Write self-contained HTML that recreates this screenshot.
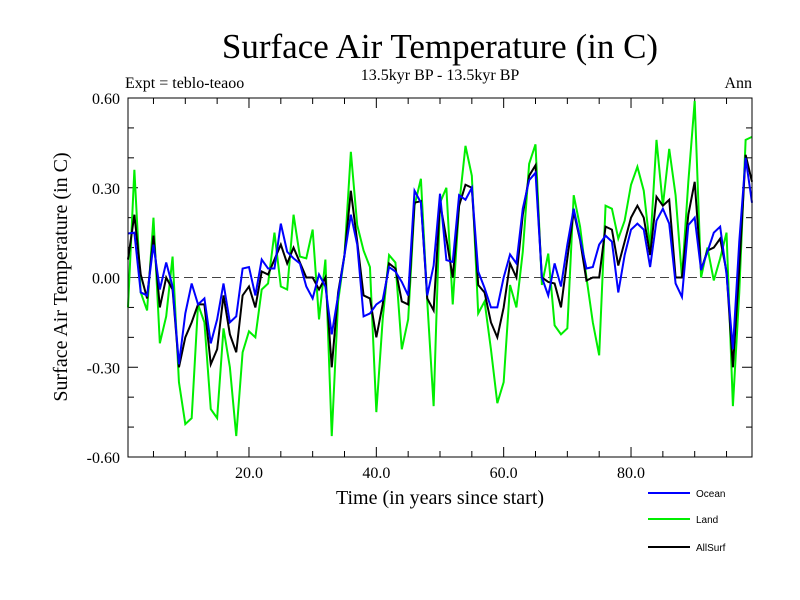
<!DOCTYPE html>
<html><head><meta charset="utf-8"><style>
html,body{margin:0;padding:0;background:#fff;}
svg{display:block;}
text{font-family:"Liberation Serif",serif;fill:#000;}
.leg{font-family:"Liberation Sans",sans-serif;font-size:10px;}
</style></head><body>
<svg id="chart" width="800" height="600">
<text x="440" y="58" text-anchor="middle" font-size="35">Surface Air Temperature (in C)</text>
<text x="440" y="80" text-anchor="middle" font-size="16">13.5kyr BP - 13.5kyr BP</text>
<text x="125" y="88" font-size="16">Expt = teblo-teaoo</text>
<text x="752" y="88" text-anchor="end" font-size="16">Ann</text>
<text transform="translate(67,277) rotate(-90)" text-anchor="middle" font-size="20">Surface Air Temperature (in C)</text>
<text x="440" y="504" text-anchor="middle" font-size="20">Time (in years since start)</text>
<g id="ticks"></g>
<g id="series"></g>
<rect x="128" y="98" width="624" height="359" fill="none" stroke="#000" stroke-width="1"/>
<g>
<line x1="648" y1="493" x2="690" y2="493" stroke="#0000ff" stroke-width="2"/>
<text x="696" y="497" class="leg">Ocean</text>
<line x1="648" y1="519" x2="690" y2="519" stroke="#00ee00" stroke-width="2"/>
<text x="696" y="523" class="leg">Land</text>
<line x1="648" y1="547" x2="690" y2="547" stroke="#000" stroke-width="2"/>
<text x="696" y="551" class="leg">AllSurf</text>
</g>
</svg>
<script>
const years = Array.from({length:99},(_,i)=>i+1);
const ocean = [0.147,0.15,-0.05,-0.06,0.11,-0.04,0.05,-0.03,-0.29,-0.12,-0.02,-0.09,-0.07,-0.22,-0.14,-0.02,-0.15,-0.13,0.03,0.035,-0.06,0.06,0.03,0.03,0.18,
0.086,0.064,0.047,-0.03,-0.07,0.01,-0.03,-0.19,-0.06,0.075,0.21,0.11,-0.13,-0.12,-0.09,-0.075,0.035,0.02,-0.015,-0.06,0.29,0.25,-0.06,0.04,0.28,
0.058,0.052,0.275,0.26,0.3,0.02,-0.035,-0.1,-0.1,0,0.077,0.047,0.23,0.325,0.35,0,-0.06,0.047,-0.03,0.11,0.23,0.13,0.03,0.035,0.11,
0.14,0.12,-0.05,0.075,0.16,0.18,0.16,0.035,0.19,0.23,0.18,-0.02,-0.065,0.175,0.2,0.025,0.086,0.15,0.17,0.01,-0.24,0.12,0.4,0.25];
const land = [-0.1,0.36,-0.05,-0.11,0.2,-0.22,-0.13,0.07,-0.35,-0.49,-0.47,-0.09,-0.15,-0.44,-0.47,-0.17,-0.3,-0.53,-0.25,-0.18,-0.2,-0.04,-0.02,0.15,-0.03,
-0.04,0.21,0.07,0.064,0.16,-0.14,0.06,-0.53,-0.08,0.075,0.42,0.175,0.09,0.035,-0.45,-0.14,0.075,0.05,-0.24,-0.14,0.24,0.33,-0.08,-0.43,0.25,
0.3,-0.09,0.24,0.44,0.34,-0.12,-0.08,-0.24,-0.42,-0.35,-0.025,-0.1,0.086,0.38,0.445,-0.025,0.08,-0.16,-0.19,-0.17,0.275,0.17,0,-0.15,-0.26,
0.24,0.23,0.13,0.19,0.31,0.37,0.29,0.1,0.46,0.24,0.43,0.275,0,0.32,0.59,0,0.1,-0.01,0.064,0.15,-0.43,-0.05,0.46,0.47];
const allsurf = [0.06,0.21,0.01,-0.07,0.14,-0.1,0,-0.04,-0.3,-0.2,-0.15,-0.09,-0.09,-0.29,-0.24,-0.06,-0.19,-0.25,-0.06,-0.03,-0.1,0.02,0.01,0.06,0.11,
0.047,0.1,0.05,0,0,-0.04,0,-0.3,-0.05,0.075,0.29,0.12,-0.06,-0.07,-0.2,-0.09,0.047,0.03,-0.08,-0.09,0.25,0.255,-0.07,-0.11,0.25,
0.13,0,0.24,0.31,0.3,-0.025,-0.05,-0.15,-0.2,-0.1,0.047,0,0.21,0.34,0.375,0,-0.015,-0.02,-0.1,0.064,0.22,0.125,-0.01,0,0,
0.17,0.16,0.04,0.12,0.2,0.24,0.2,0.075,0.27,0.24,0.26,0,0,0.21,0.32,0.025,0.09,0.1,0.13,0.02,-0.3,0.03,0.41,0.32];
const yTicks = [-0.6,-0.3,0,0.3,0.6];
const yTickLabels = ["-0.60","-0.30","0.00","0.30","0.60"];
const xTicks = [20,40,60,80];
const xTickLabels = ["20.0","40.0","60.0","80.0"];

const X0=128,X1=752,Y0=98,Y1=457,XMIN=1,XMAX=99,YMIN=-0.6,YMAX=0.6;
function xs(v){return X0+(v-XMIN)/(XMAX-XMIN)*(X1-X0);}
function ys(v){return Y1-(v-YMIN)/(YMAX-YMIN)*(Y1-Y0);}
const NS="http://www.w3.org/2000/svg";
function mk(tag,attrs,parent){const e=document.createElementNS(NS,tag);for(const k in attrs)e.setAttribute(k,attrs[k]);parent.appendChild(e);return e;}
const tg=document.getElementById('ticks');
for(let v=-0.6;v<=0.601;v+=0.1){
  const y=ys(v); const major=yTicks.some(t=>Math.abs(t-v)<1e-6); const L=major?10:6;
  let a=mk('line',{x1:X0,x2:X0+L,y1:y,y2:y,stroke:'#000'},tg);
  
  
  let b=mk('line',{x1:X1,x2:X1-L,y1:y,y2:y,stroke:'#000'},tg);
  
  
}
yTicks.forEach((v,i)=>{
  const t=mk('text',{x:120,y:ys(v)+6,'text-anchor':'end','font-size':16},tg);
  t.textContent=yTickLabels[i];
  
  
});
for(let v=5;v<=95;v+=5){
  const x=xs(v); const major=v%20===0; const L=major?10:6;
  let a=mk('line',{x1:x,x2:x,y1:Y1,y2:Y1-L,stroke:'#000'},tg);
  
  
  let b=mk('line',{x1:x,x2:x,y1:Y0,y2:Y0+L,stroke:'#000'},tg);
  
  
}
xTicks.forEach((v,i)=>{
  const t=mk('text',{x:xs(v),y:478,'text-anchor':'middle','font-size':16},tg);
  t.textContent=xTickLabels[i];
  
  
});
const zl=mk('line',{x1:X0,x2:X1,y1:ys(0),y2:ys(0),stroke:'#444','stroke-dasharray':'9,5'},tg);


const sg=document.getElementById('series');
function draw(data,color,name){
  const d=data.map((v,i)=>(i?'L':'M')+xs(years[i]).toFixed(2)+','+ys(v).toFixed(2)).join('');
  const p=mk('path',{d:d,fill:'none',stroke:color,'stroke-width':2,'stroke-linejoin':'miter'},sg);
  
  
}
draw(land,'#00ee00','land-line');
draw(allsurf,'#000000','allsurf-line');
draw(ocean,'#0000ff','ocean-line');
</script>
</body></html>
